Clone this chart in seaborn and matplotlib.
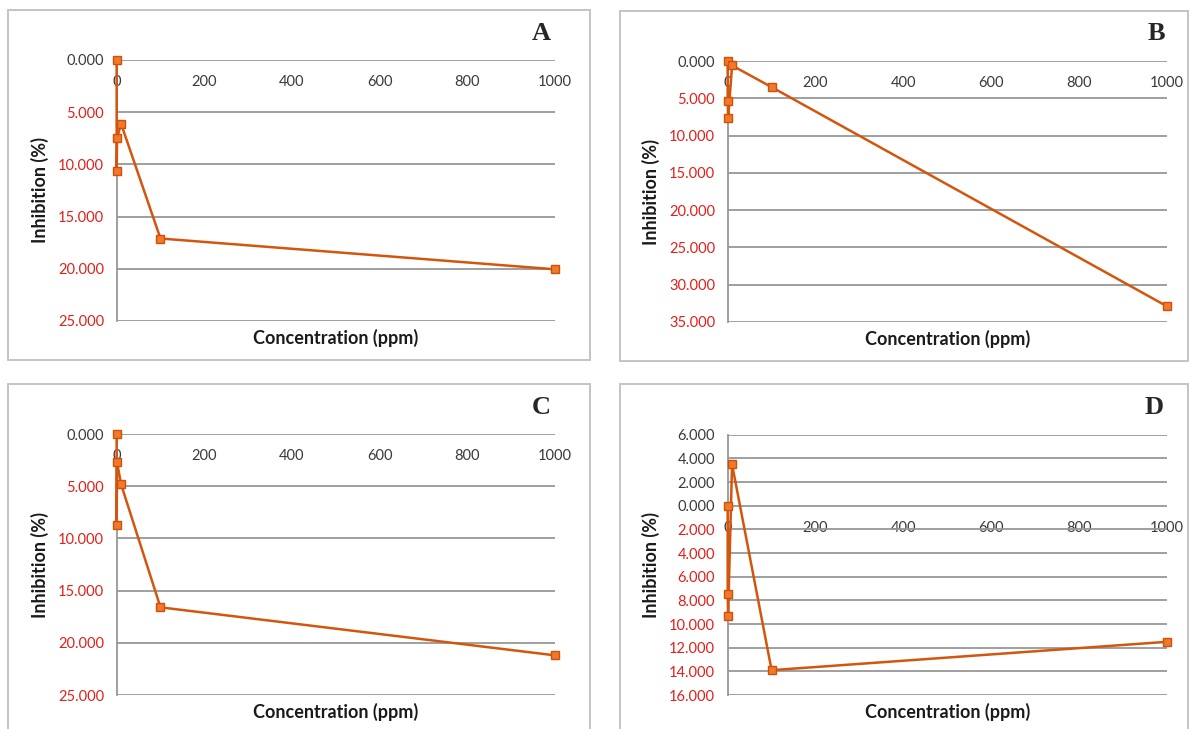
import numpy as np
import matplotlib
matplotlib.use("Agg")
import matplotlib.pyplot as plt
import matplotlib.patches as patches
from matplotlib.ticker import FuncFormatter, MultipleLocator
import seaborn as sns

# ── Données ────────────────────────────────────────────────────
concentration = [0, 0.1, 1, 10, 100, 1000]
inhib_a = [0.0, -10.6, -7.5, -6.1, -17.1, -20.05]
inhib_b = [0.0, -5.4, -7.7, -0.6, -3.5, -32.9]
inhib_c = [0.0, -8.7, -2.7, -4.8, -16.6, -21.2]
inhib_d = [0.0, -7.5, -9.3, 3.5, -13.9, -11.5]

panel_letters = ["A", "B", "C", "D"]
x_ticks = [0, 200, 400, 600, 800, 1000]
y_ranges = [(-25, 0, 5), (-35, 0, 5), (-25, 0, 5), (-16, 6, 2)]

sns.set_style("white")
plt.rcParams["font.family"] = ["Lato", "DejaVu Sans"]

LINE_COLOR = "#D2560E"
MARKER_FACE = "#F07A2A"
MARKER_EDGE = "#D0500A"
GRID_COLOR = "#979797"
RED = "#E0201B"
DARK = "#3A3A3A"

fig = plt.figure(figsize=(11.89, 7.29), dpi=100)

# cadres gris autour de chaque graphique
frames = [
    (0.0067, 0.5062, 0.4895, 0.4801),
    (0.5214, 0.5048, 0.4777, 0.4801),
    (0.0067, -0.02, 0.4895, 0.4933),
    (0.5214, -0.02, 0.4777, 0.4933),
]
for fx, fy, fw, fh in frames:
    fig.add_artist(patches.Rectangle((fx, fy), fw, fh, transform=fig.transFigure,
                                     fill=False, edgecolor="#C4C4C4", linewidth=1.4))

axes_pos = [
    [0.0981, 0.5597, 0.3687, 0.358],
    [0.6120, 0.5583, 0.3695, 0.358],
    [0.0981, 0.0466, 0.3687, 0.358],
    [0.6120, 0.0466, 0.3695, 0.357],
]
letter_pos = [(0.455, 0.9547), (0.9723, 0.9547), (0.455, 0.4417), (0.9706, 0.4417)]

series = [inhib_a, inhib_b, inhib_c, inhib_d]

for pos, values, letter, (ymin, ymax, step), lpos in zip(axes_pos, series, panel_letters, y_ranges, letter_pos):
    ax = fig.add_axes(pos)
    sns.lineplot(x=concentration, y=values, ax=ax, sort=False, estimator=None,
                 color=LINE_COLOR, linewidth=1.8, marker="s", markersize=5.5,
                 markerfacecolor=MARKER_FACE, markeredgecolor=MARKER_EDGE,
                 markeredgewidth=1.0, clip_on=False, zorder=5)

    ax.set_xlim(0, 1000)
    ax.set_ylim(ymin, ymax)
    ax.set_xticks(x_ticks)
    ax.yaxis.set_major_locator(MultipleLocator(step))
    ax.yaxis.set_major_formatter(FuncFormatter(lambda v, p: f"{abs(v):.3f}"))

    ax.grid(axis="y", color=GRID_COLOR, linewidth=1.3)
    ax.grid(axis="x", visible=False)
    ax.set_axisbelow(True)

    for side in ["top", "right"]:
        ax.spines[side].set_visible(False)
    ax.spines["left"].set_color(GRID_COLOR)
    ax.spines["left"].set_linewidth(1.3)
    ax.spines["bottom"].set_position(("data", 0))
    ax.spines["bottom"].set_color("none")

    ax.tick_params(axis="x", length=0, pad=11, labelsize=10.5, labelcolor=DARK)
    ax.tick_params(axis="y", length=0, pad=9, labelsize=10.5)

    for lab, val in zip(ax.get_yticklabels(), ax.get_yticks()):
        lab.set_color(RED if val < -1e-9 else DARK)

    ax.set_xlabel("Concentration (ppm)", fontsize=13, fontweight="bold", color="#1A1A1A")
    ax.set_ylabel("Inhibition (%)", fontsize=13, fontweight="bold", color="#1A1A1A")
    ax.xaxis.set_label_coords(0.5, -0.03)
    ax.yaxis.set_label_coords(-0.155, 0.5)

    fig.text(lpos[0], lpos[1], letter, ha="center", va="center", fontsize=19,
             fontweight="bold", family=["Liberation Serif", "DejaVu Serif"])

fig.savefig("out.png", dpi=100)
plt.close()
